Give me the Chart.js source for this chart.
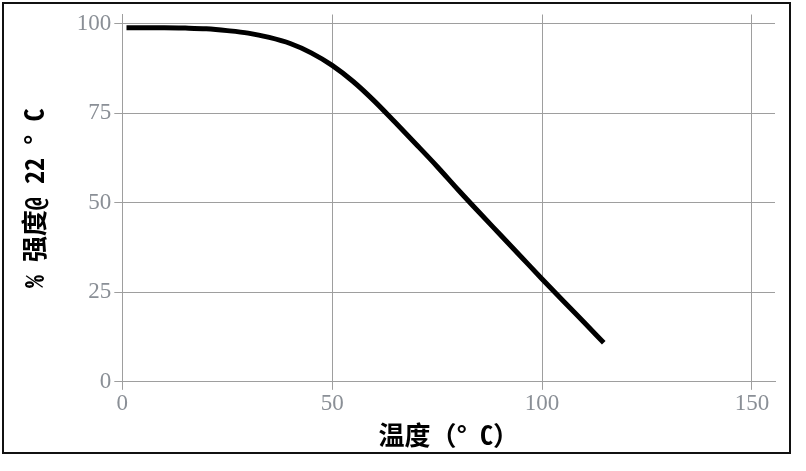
<!DOCTYPE html>
<html lang="zh">
  <head>
    <meta charset="utf-8" />
    <title>强度与温度</title>
    <script src="https://cdn.jsdelivr.net/npm/chart.js@4/dist/chart.umd.min.js"></script>
    <style>
      html, body { margin: 0; padding: 0; background: #fff; }
      .wrap { position: absolute; left: 0; top: 0; width: 806px; height: 471px; }
      .frame {
        position: absolute; left: 2px; top: 2px; width: 789px; height: 452px;
        box-sizing: border-box; border: 2px solid #111; pointer-events: none;
      }
    </style>
  </head>
  <body>
    <div class="wrap"><canvas id="c"></canvas></div>
    <div class="frame"></div>
    <script>
      // 温度 (°C) と 强度 (%)
      const temps = [1, 5, 10, 15, 20, 25, 30, 35, 40, 45, 50, 55, 60, 65, 70, 75, 80, 85, 90, 95, 100, 105, 110, 114.7];
      const strength = [98.8, 98.8, 98.8, 98.7, 98.5, 98.0, 97.3, 96.1, 94.4, 91.8, 88.3, 83.8, 78.4, 72.4, 66.3, 60.1, 53.6, 47.3, 41.1, 34.9, 28.7, 22.6, 16.6, 10.9];
      const xTicks = [0, 50, 100, 150];
      const yTicks = [0, 25, 50, 75, 100];

      const gridColor = "#9e9e9e";
      const tickColor = "#8a8f96";
      const tickFont = { family: "'Liberation Serif', serif", size: 23, lineHeight: 1 };
      const titleFont = { family: "'Noto Sans Mono CJK SC', 'Noto Sans CJK SC', sans-serif", size: 26, weight: "bold" };

      new Chart(document.getElementById("c"), {
        type: "line",
        data: {
          datasets: [{
            data: temps.map((t, i) => ({ x: t, y: strength[i] })),
            borderColor: "#000",
            borderWidth: 5,
            pointRadius: 0,
            fill: false,
            cubicInterpolationMode: "monotone",
          }],
        },
        options: {
          responsive: true,
          maintainAspectRatio: false,
          animation: false,
          layout: { padding: { left: 16, right: 31, top: 11, bottom: 20 } },
          plugins: { legend: { display: false }, tooltip: { enabled: false } },
          scales: {
            x: {
              type: "linear",
              min: 0,
              max: 155.5,
              afterBuildTicks: (s) => { s.ticks = xTicks.map((v) => ({ value: v })); },
              ticks: { color: tickColor, font: tickFont, padding: 3, maxRotation: 0 },
              grid: { color: gridColor, lineWidth: 1, tickLength: 8 },
              border: { color: gridColor, width: 1 },
              title: { display: true, text: "温度（° C）", color: "#000", font: titleFont, padding: { top: 1, bottom: 0 } },
            },
            y: {
              min: 0,
              max: 102.5,
              afterBuildTicks: (s) => { s.ticks = yTicks.map((v) => ({ value: v })); },
              ticks: { color: tickColor, font: tickFont, padding: 3 },
              grid: { color: gridColor, lineWidth: 1, tickLength: 8 },
              border: { color: gridColor, width: 1 },
              title: { display: true, text: "% 强度@ 22 ° C", color: "#000", font: titleFont, padding: { top: 3, bottom: 23.6 } },
            },
          },
        },
      });
    </script>
  </body>
</html>
